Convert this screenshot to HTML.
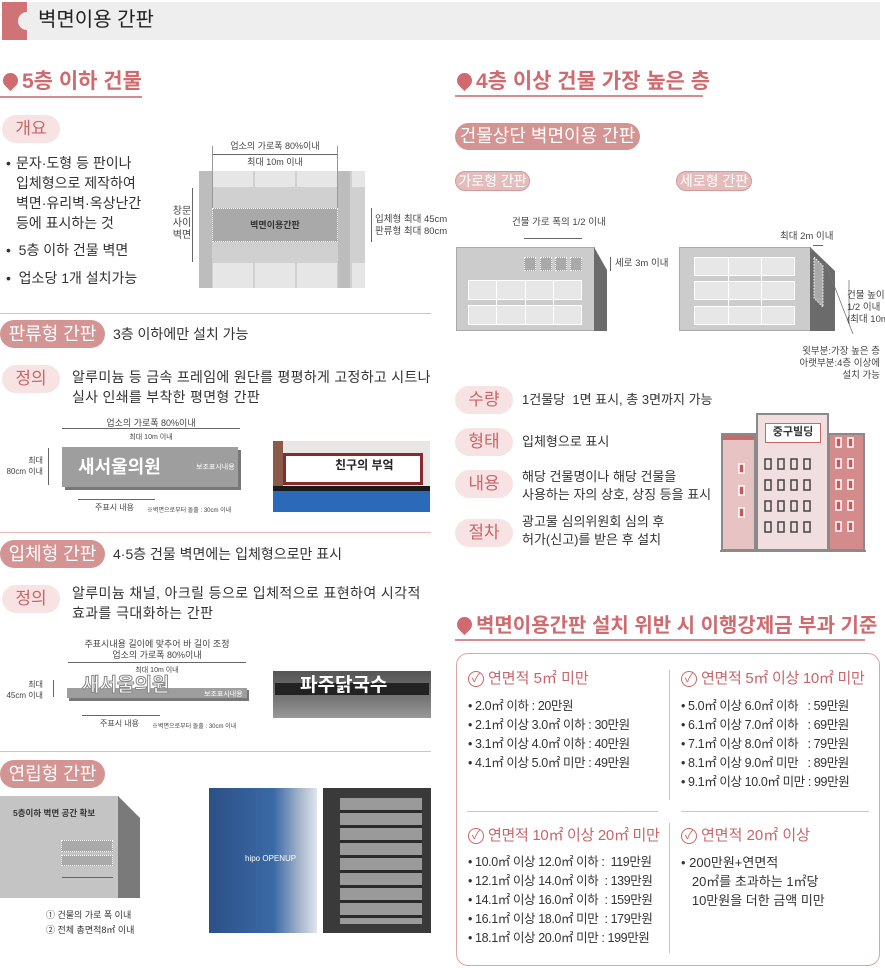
<!DOCTYPE html>
<html><head><meta charset="utf-8">
<style>
*{margin:0;padding:0;box-sizing:border-box}
body{width:885px;height:968px;position:relative;background:#fff;font-family:"Liberation Sans","Noto Sans CJK KR",sans-serif;color:#333;overflow:hidden}
.a{position:absolute;white-space:nowrap}
.pk{color:#c9656a}
.h2{font-size:21px;font-weight:bold;color:#cf6b6f;line-height:24px}
.ul{position:absolute;height:2px;background:#d98a8c}
.pin{position:absolute;width:15px;height:15px;background:#cf6b6f;border-radius:50% 50% 50% 0;transform:rotate(-45deg)}
.pl{position:absolute;background:#f7e3e3;color:#cc6468;border-radius:14px;font-size:17px;text-align:center;line-height:28px}
.pd{position:absolute;background:#d49493;color:#fff;border-radius:14px;font-size:18px;text-align:center;line-height:28px}
.ps{position:absolute;background:#e5bcbc;color:#fff;border:1px solid #d49a9a;border-radius:10px;font-size:14px;text-align:center;line-height:18px}
.t14{font-size:14px;line-height:20px}
.t13{font-size:13px;line-height:19px}
.pt{font-size:12.5px;line-height:19px;letter-spacing:-0.4px}
.sm{font-size:9px;line-height:11px;color:#444}
.sep{position:absolute;height:1px;background:#e8b8b8;left:0;width:431px}
.r{position:absolute}
.ln{position:absolute;background:#666}
.dot{position:absolute;border:1.5px dotted #fff}
.ck{position:absolute;width:16px;height:16px;border:1.5px solid #cc6468;border-radius:50%;background:#fff;font-size:12px;line-height:13px;text-align:center;color:#cc6468}
</style></head><body>

<!-- header -->
<div class="r" style="left:28px;top:2px;width:852px;height:38px;background:#eeeeee"></div>
<div class="r" style="left:2px;top:2px;width:25px;height:38px;background:#cf7377"></div>
<div class="r" style="left:18px;top:12px;width:18px;height:18px;border-radius:50%;background:#eee"></div>
<div class="a" style="left:38px;top:8px;font-size:20px;line-height:24px;color:#222">벽면이용 간판</div>

<!-- left heading -->
<div class="pin" style="left:3px;top:73px"></div>
<div class="a h2" style="left:22px;top:70px">5층 이하 건물</div>
<div class="ul" style="left:0;top:96px;width:142px"></div>

<div class="pl" style="left:2px;top:115px;width:58px">개요</div>
<div class="a t14" style="left:6px;top:153px">•</div>
<div class="a t14" style="left:16px;top:153px">문자·도형 등 판이나<br>입체형으로 제작하여<br>벽면·유리벽·옥상난간<br>등에 표시하는 것</div>
<div class="a t14" style="left:6px;top:240px">•&nbsp; 5층 이하 건물 벽면</div>
<div class="a t14" style="left:6px;top:268px">•&nbsp; 업소당 1개 설치가능</div>

<!-- diagram 1 -->
<div class="r" style="left:199px;top:171px;width:166px;height:117px;background:#d0d0d0"></div>
<div class="r" style="left:199px;top:171px;width:13px;height:117px;background:#bdbdbd"></div>
<div class="r" style="left:338px;top:171px;width:12px;height:117px;background:#bdbdbd"></div>
<div class="r" style="left:213px;top:171px;width:40px;height:16px;background:#e6e6e6"></div>
<div class="r" style="left:255px;top:171px;width:40px;height:16px;background:#e6e6e6"></div>
<div class="r" style="left:297px;top:171px;width:40px;height:16px;background:#e6e6e6"></div>
<div class="r" style="left:352px;top:171px;width:13px;height:16px;background:#e6e6e6"></div>
<div class="r" style="left:213px;top:263px;width:40px;height:25px;background:#e6e6e6"></div>
<div class="r" style="left:255px;top:263px;width:40px;height:25px;background:#e6e6e6"></div>
<div class="r" style="left:297px;top:263px;width:40px;height:25px;background:#e6e6e6"></div>
<div class="r" style="left:352px;top:263px;width:13px;height:25px;background:#e6e6e6"></div>
<div class="r" style="left:212px;top:208px;width:126px;height:34px;background:#a9a9a9;border:1.5px dotted #fff"></div>
<div class="a" style="left:212px;top:218px;width:126px;text-align:center;font-size:9px;font-weight:bold;color:#333">벽면이용간판</div>
<div class="a sm" style="left:212px;top:141px;width:126px;text-align:center">업소의 가로폭 80%이내</div>
<div class="ln" style="left:212px;top:154px;width:125px;height:1px"></div>
<div class="ln" style="left:212px;top:146px;width:1px;height:62px;background:#999"></div>
<div class="ln" style="left:337px;top:146px;width:1px;height:62px;background:#999"></div>
<div class="a sm" style="left:212px;top:157px;width:126px;text-align:center">최대 10m 이내</div>
<div class="a" style="left:172px;top:206px;width:20px;text-align:center;font-size:10px;line-height:12px;color:#444">창문<br>사이<br>벽면</div>
<div class="ln" style="left:192px;top:188px;width:1px;height:74px"></div>
<div class="ln" style="left:371px;top:208px;width:1px;height:34px"></div>
<div class="a sm" style="left:375px;top:214px;font-size:9.5px;line-height:12px">입체형 최대 45cm<br>판류형 최대 80cm</div>

<div class="sep" style="top:313px"></div>

<!-- 판류형 -->
<div class="pd" style="left:0;top:320px;width:105px">판류형 간판</div>
<div class="a t14" style="left:113px;top:324px">3층 이하에만 설치 가능</div>
<div class="pl" style="left:2px;top:365px;width:58px">정의</div>
<div class="a t14" style="left:72px;top:367px;letter-spacing:0.3px">알루미늄 등 금속 프레임에 원단를 평평하게 고정하고 시트나<br>실사 인쇄를 부착한 평면형 간판</div>
<div class="a sm" style="left:62px;top:418px;width:178px;text-align:center">업소의 가로폭 80%이내</div>
<div class="ln" style="left:62px;top:428px;width:178px;height:1px"></div>
<div class="a" style="left:62px;top:432px;width:178px;text-align:center;font-size:7px;color:#444">최대 10m 이내</div>
<div class="r" style="left:65px;top:450px;width:176px;height:40px;background:#777"></div>
<div class="r" style="left:62px;top:447px;width:176px;height:40px;background:#9e9e9e"></div>
<div class="a" style="left:78px;top:456px;font-size:18px;font-weight:bold;color:#fff;line-height:22px">새서울의원</div>
<div class="a" style="left:196px;top:462px;font-size:7px;color:#fff">보조표시내용</div>
<div class="a" style="left:3px;top:455px;width:40px;text-align:right;font-size:8px;line-height:11px;color:#444">최대<br>80cm 이내</div>
<div class="ln" style="left:48px;top:448px;width:1px;height:37px"></div>
<div class="ln" style="left:78px;top:499px;width:77px;height:1px"></div>
<div class="a" style="left:95px;top:502px;font-size:8px;color:#444">주표시 내용</div>
<div class="a" style="left:147px;top:505px;font-size:6px;color:#444">※벽면으로부터 돌출 : 30cm 이내</div>
<!-- photo 1 -->
<div class="r" style="left:273px;top:441px;width:157px;height:71px;background:#e9e6e6"></div>
<div class="r" style="left:273px;top:441px;width:10px;height:71px;background:#8a5a4a"></div>
<div class="r" style="left:283px;top:453px;width:140px;height:32px;background:#fff;border:3px solid #8b2a2a"></div>
<div class="a" style="left:335px;top:456px;font-size:12px;font-weight:bold;color:#222">친구의 부엌</div>
<div class="r" style="left:273px;top:490px;width:157px;height:22px;background:#2b6ab8"></div>
<div class="r" style="left:273px;top:486px;width:157px;height:5px;background:#1a1a1a"></div>

<div class="sep" style="top:532px"></div>

<!-- 입체형 -->
<div class="pd" style="left:0;top:540px;width:105px">입체형 간판</div>
<div class="a t14" style="left:113px;top:544px">4·5층 건물 벽면에는 입체형으로만 표시</div>
<div class="pl" style="left:2px;top:585px;width:58px">정의</div>
<div class="a t14" style="left:72px;top:583px;letter-spacing:0.4px">알루미늄 채널, 아크릴 등으로 입체적으로 표현하여 시각적<br>효과를 극대화하는 간판</div>
<div class="a sm" style="left:68px;top:639px;width:178px;text-align:center">주표시내용 길이에 맞추어 바 길이 조정</div>
<div class="a sm" style="left:68px;top:650px;width:178px;text-align:center">업소의 가로폭 80%이내</div>
<div class="ln" style="left:68px;top:662px;width:178px;height:1px"></div>
<div class="a" style="left:68px;top:665px;width:178px;text-align:center;font-size:7px;color:#444">최대 10m 이내</div>
<div class="r" style="left:69px;top:690px;width:180px;height:11px;background:#777"></div>
<div class="r" style="left:67px;top:688px;width:180px;height:10px;background:#9e9e9e"></div>
<div class="a" style="left:82px;top:675px;font-size:19px;font-weight:bold;color:#fff;line-height:22px;-webkit-text-stroke:1px #888">새서울의원</div>
<div class="a" style="left:204px;top:689px;font-size:7px;color:#fff">보조표시내용</div>
<div class="a" style="left:3px;top:679px;width:40px;text-align:right;font-size:8px;line-height:11px;color:#444">최대<br>45cm 이내</div>
<div class="ln" style="left:53px;top:680px;width:1px;height:17px"></div>
<div class="ln" style="left:82px;top:715px;width:78px;height:1px"></div>
<div class="a" style="left:100px;top:718px;font-size:8px;color:#444">주표시 내용</div>
<div class="a" style="left:152px;top:721px;font-size:6px;color:#444">※벽면으로부터 돌출 : 30cm 이내</div>
<div class="r" style="left:273px;top:671px;width:158px;height:47px;background:linear-gradient(#555,#777 60%,#999)"></div>
<div class="r" style="left:275px;top:683px;width:154px;height:12px;background:#222"></div>
<div class="a" style="left:300px;top:674px;font-size:19px;font-weight:bold;color:#fff;line-height:24px">파주닭국수</div>

<div class="sep" style="top:751px"></div>

<!-- 연립형 -->
<div class="pd" style="left:0;top:760px;width:105px">연립형 간판</div>
<div class="r" style="left:0;top:796px;width:119px;height:102px;background:#c4c4c4"></div>
<svg class="r" style="left:118px;top:796px" width="23" height="102"><polygon points="0,0 22,22 22,102 0,102" fill="#7a7a7a"/></svg>
<div class="a" style="left:13px;top:807px;font-size:8.5px;font-weight:bold;color:#333">5층이하 벽면 공간 확보</div>
<div class="r" style="left:61px;top:840px;width:52px;height:12px;background:#aaa;border:1px dotted #fff"></div>
<div class="r" style="left:61px;top:855px;width:52px;height:11px;background:#aaa;border:1px dotted #fff"></div>
<div class="ln" style="left:62px;top:877px;width:51px;height:1px"></div>
<div class="a" style="left:46px;top:908px;font-size:9px;line-height:15px;color:#333">① 건물의 가로 폭 이내<br>② 전체 총면적8㎡ 이내</div>
<div class="r" style="left:209px;top:788px;width:108px;height:145px;background:linear-gradient(90deg,#2d4f86,#3a6aa6 60%,#a9b8cc 85%,#dfe5ee)"></div>
<div class="a" style="left:245px;top:854px;font-size:8px;color:#fff">hipo OPENUP</div>
<div class="r" style="left:323px;top:788px;width:108px;height:145px;background:#3a3a3a"></div>
<div class="r" style="left:340px;top:798px;width:82px;height:126px;background:repeating-linear-gradient(#9a9a9a 0 12px,#2a2a2a 12px 15px)"></div>

<!-- right heading -->
<div class="pin" style="left:457px;top:73px"></div>
<div class="a h2" style="left:476px;top:70px">4층 이상 건물 가장 높은 층</div>
<div class="ul" style="left:455px;top:95px;width:248px"></div>
<div class="pd" style="left:455px;top:123px;width:185px;height:27px;line-height:27px">건물상단 벽면이용 간판</div>
<div class="ps" style="left:455px;top:171px;width:75px">가로형 간판</div>
<div class="ps" style="left:676px;top:171px;width:76px">세로형 간판</div>

<!-- left building -->
<div class="r" style="left:456px;top:247px;width:139px;height:84px;background:#cccccc;border:1px solid #aaa"></div>
<svg class="r" style="left:594px;top:247px" width="14" height="84"><polygon points="0,0 13,23 13,84 0,84" fill="#6b6b6b"/></svg>
<div class="r" style="left:468px;top:280px;width:114px;height:20px;background:#e7e7e7;border:1px solid #fff"></div>
<div class="r" style="left:468px;top:305px;width:114px;height:20px;background:#e7e7e7;border:1px solid #fff"></div>
<div class="r" style="left:496px;top:280px;width:1px;height:45px;background:#fff"></div>
<div class="r" style="left:525px;top:280px;width:1px;height:45px;background:#fff"></div>
<div class="r" style="left:553px;top:280px;width:1px;height:45px;background:#fff"></div>
<div class="dot" style="left:524px;top:257px;width:12px;height:14px;background:#aaa"></div>
<div class="dot" style="left:540px;top:257px;width:12px;height:14px;background:#aaa"></div>
<div class="dot" style="left:555px;top:257px;width:12px;height:14px;background:#aaa"></div>
<div class="dot" style="left:570px;top:257px;width:12px;height:14px;background:#aaa"></div>
<div class="a sm" style="left:512px;top:217px;font-size:9.5px">건물 가로 폭의 1/2 이내</div>
<div class="ln" style="left:524px;top:238px;width:58px;height:1px"></div>
<div class="ln" style="left:610px;top:257px;width:1px;height:14px"></div>
<div class="a sm" style="left:615px;top:258px;font-size:9.5px">세로 3m 이내</div>

<!-- right building -->
<div class="r" style="left:679px;top:247px;width:132px;height:84px;background:#cccccc;border:1px solid #aaa"></div>
<svg class="r" style="left:810px;top:247px" width="26" height="84"><polygon points="0,0 25,24 25,84 0,84" fill="#6b6b6b"/></svg>
<div class="r" style="left:694px;top:257px;width:101px;height:19px;background:#e7e7e7;border:1px solid #fff"></div>
<div class="r" style="left:694px;top:281px;width:101px;height:19px;background:#e7e7e7;border:1px solid #fff"></div>
<div class="r" style="left:694px;top:306px;width:101px;height:19px;background:#e7e7e7;border:1px solid #fff"></div>
<div class="r" style="left:728px;top:257px;width:1px;height:68px;background:#fff"></div>
<div class="r" style="left:761px;top:257px;width:1px;height:68px;background:#fff"></div>
<svg class="r" style="left:812px;top:256px" width="14" height="52"><polygon points="2,1 11,10 11,51 2,42" fill="#aaa" stroke="#fff" stroke-dasharray="1.5 1.5"/></svg>
<div class="a sm" style="left:780px;top:231px;font-size:9.5px">최대 2m 이내</div>
<div class="ln" style="left:813px;top:245px;width:10px;height:1px"></div>
<svg class="r" style="left:825px;top:262px" width="30" height="75"><line x1="0" y1="0" x2="28" y2="72" stroke="#777" stroke-width="0.8"/><line x1="24" y1="18" x2="24" y2="62" stroke="#777" stroke-width="0.8"/></svg>
<div class="a sm" style="left:847px;top:290px;font-size:9.5px;line-height:12px">건물 높이<br>1/2 이내<br>(최대 10m)</div>
<div class="a sm" style="left:760px;top:346px;width:120px;text-align:right;font-size:9.5px;line-height:12px">윗부분:가장 높은 층<br>아랫부분:4층 이상에<br>설치 가능</div>

<!-- 수량 etc -->
<div class="pl" style="left:455px;top:386px;width:58px">수량</div>
<div class="a t13" style="left:522px;top:390px">1건물당&nbsp; 1면 표시, 총 3면까지 가능</div>
<div class="pl" style="left:455px;top:428px;width:58px">형태</div>
<div class="a t13" style="left:522px;top:432px">입체형으로 표시</div>
<div class="pl" style="left:455px;top:470px;width:58px">내용</div>
<div class="a t13" style="left:522px;top:468px;line-height:18px">해당 건물명이나 해당 건물을<br>사용하는 자의 상호, 상징 등을 표시</div>
<div class="pl" style="left:455px;top:519px;width:58px">절차</div>
<div class="a t13" style="left:522px;top:513px;line-height:18px">광고물 심의위원회 심의 후<br>허가(신고)를 받은 후 설치</div>

<!-- building illustration -->
<div class="r" style="left:721px;top:433px;width:35px;height:118px;background:#e8c3c3;border:2px solid #8a8a8a"></div>
<div class="r" style="left:723px;top:435px;width:31px;height:5px;background:#c86a6a"></div>
<div class="r" style="left:828px;top:433px;width:37px;height:118px;background:#d38b8b;border:2px solid #8a8a8a"></div>
<div class="r" style="left:756px;top:413px;width:73px;height:138px;background:#f1dede;border:2px solid #8a8a8a"></div>
<div class="r" style="left:765px;top:423px;width:56px;height:20px;background:#fff;border:1.5px solid #c86a6a;font-size:11px;font-weight:bold;text-align:center;line-height:17px;color:#333">중구빌딩</div>
<svg class="r" style="left:720px;top:413px" width="146" height="140">
<g fill="none" stroke="#444" stroke-width="1.5">
<rect x="45" y="46" width="6" height="10"/><rect x="58" y="46" width="6" height="10"/><rect x="71" y="46" width="6" height="10"/><rect x="84" y="46" width="6" height="10"/>
<rect x="45" y="67" width="6" height="10"/><rect x="58" y="67" width="6" height="10"/><rect x="71" y="67" width="6" height="10"/><rect x="84" y="67" width="6" height="10"/>
<rect x="45" y="88" width="6" height="10"/><rect x="58" y="88" width="6" height="10"/><rect x="71" y="88" width="6" height="10"/><rect x="84" y="88" width="6" height="10"/>
<rect x="45" y="109" width="6" height="10"/><rect x="58" y="109" width="6" height="10"/><rect x="71" y="109" width="6" height="10"/><rect x="84" y="109" width="6" height="10"/>
</g>
<g fill="#c55" stroke="#fff" stroke-width="1.5">
<rect x="19" y="51" width="5" height="9"/><rect x="19" y="73" width="5" height="9"/><rect x="19" y="95" width="5" height="9"/>
<rect x="116" y="25" width="5" height="9"/><rect x="128" y="25" width="5" height="9"/>
<rect x="116" y="46" width="5" height="9"/><rect x="128" y="46" width="5" height="9"/>
<rect x="116" y="67" width="5" height="9"/><rect x="128" y="67" width="5" height="9"/>
<rect x="116" y="88" width="5" height="9"/><rect x="128" y="88" width="5" height="9"/>
<rect x="116" y="109" width="5" height="9"/><rect x="128" y="109" width="5" height="9"/>
</g>
<rect x="0" y="137" width="146" height="2" fill="#8a8a8a"/>
</svg>

<!-- penalty -->
<div class="pin" style="left:457px;top:617px"></div>
<div class="a h2" style="left:476px;top:614px;font-size:20px">벽면이용간판 설치 위반 시 이행강제금 부과 기준</div>
<div class="ul" style="left:455px;top:639px;width:410px"></div>
<div class="r" style="left:456px;top:653px;width:424px;height:313px;border:1.5px solid #e0a3a5;border-radius:12px"></div>
<div class="r" style="left:669px;top:670px;width:1px;height:130px;background:#e8b8b8"></div>
<div class="r" style="left:669px;top:823px;width:1px;height:130px;background:#e8b8b8"></div>
<div class="r" style="left:467px;top:811px;width:191px;height:1px;background:#e8b8b8"></div>
<div class="r" style="left:681px;top:811px;width:188px;height:1px;background:#e8b8b8"></div>

<div class="ck" style="left:468px;top:671px">✓</div>
<div class="a pk" style="left:488px;top:670px;font-size:15px;line-height:18px">연면적 5㎡ 미만</div>
<div class="a pt" style="left:468px;top:697px">• 2.0㎡ 이하 : 20만원<br>• 2.1㎡ 이상 3.0㎡ 이하 : 30만원<br>• 3.1㎡ 이상 4.0㎡ 이하 : 40만원<br>• 4.1㎡ 이상 5.0㎡ 미만 : 49만원</div>

<div class="ck" style="left:681px;top:671px">✓</div>
<div class="a pk" style="left:701px;top:670px;font-size:15px;line-height:18px;letter-spacing:-0.3px">연면적 5㎡ 이상 10㎡ 미만</div>
<div class="a pt" style="left:681px;top:697px">• 5.0㎡ 이상 6.0㎡ 이하&nbsp;&nbsp; : 59만원<br>• 6.1㎡ 이상 7.0㎡ 이하&nbsp;&nbsp; : 69만원<br>• 7.1㎡ 이상 8.0㎡ 이하&nbsp;&nbsp; : 79만원<br>• 8.1㎡ 이상 9.0㎡ 미만&nbsp;&nbsp; : 89만원<br>• 9.1㎡ 이상 10.0㎡ 미만 : 99만원</div>

<div class="ck" style="left:468px;top:828px">✓</div>
<div class="a pk" style="left:488px;top:827px;font-size:15px;line-height:18px;letter-spacing:-0.3px">연면적 10㎡ 이상 20㎡ 미만</div>
<div class="a pt" style="left:468px;top:853px">• 10.0㎡ 이상 12.0㎡ 이하 :&nbsp; 119만원<br>• 12.1㎡ 이상 14.0㎡ 이하&nbsp; : 139만원<br>• 14.1㎡ 이상 16.0㎡ 이하&nbsp; : 159만원<br>• 16.1㎡ 이상 18.0㎡ 미만&nbsp; : 179만원<br>• 18.1㎡ 이상 20.0㎡ 미만 : 199만원</div>

<div class="ck" style="left:681px;top:828px">✓</div>
<div class="a pk" style="left:701px;top:827px;font-size:15px;line-height:18px">연면적 20㎡ 이상</div>
<div class="a t13" style="left:681px;top:853px">• 200만원+연면적<br>&nbsp;&nbsp; 20㎡를 초과하는 1㎡당<br>&nbsp;&nbsp; 10만원을 더한 금액 미만</div>

</body></html>
